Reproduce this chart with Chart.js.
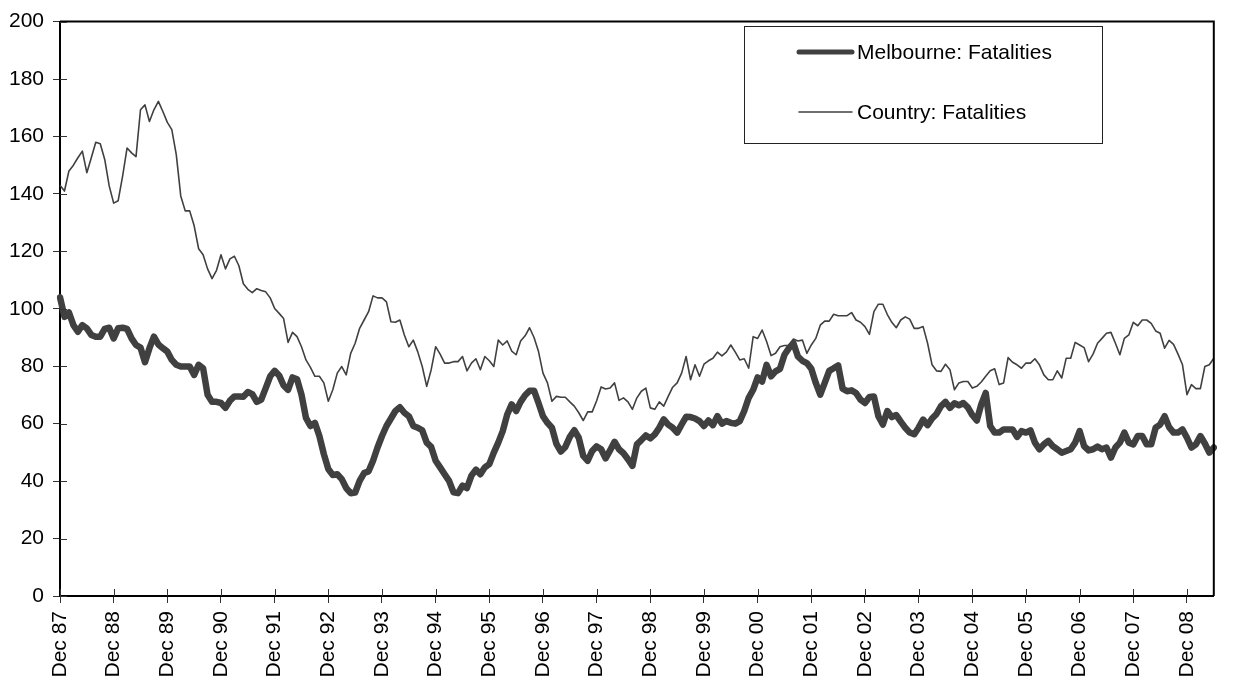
<!DOCTYPE html>
<html>
<head>
<meta charset="utf-8">
<title>Melbourne and Country fatalities</title>
<script src="https://cdn.jsdelivr.net/npm/chart.js@4.4.1/dist/chart.umd.min.js"></script>
<style>
  body { margin: 0; background: #fff; }
  #wrap { width: 1247px; height: 684px; }
</style>
</head>
<body>
<div id="wrap"><canvas id="fatalChart" width="1247" height="684"></canvas></div>
<script>
// monthly series, Dec 87 .. Jun 09 (one row per year, starting at December)
const startYear = 1987;
const monthNames = ["Dec", "Jan", "Feb", "Mar", "Apr", "May", "Jun", "Jul", "Aug", "Sep", "Oct", "Nov"];

const melbourne = [
  104, 97.2, 98.7, 94.3, 92, 94.3, 93.2, 90.9, 90.3, 90.3, 93, 93.4,
  89.7, 93.2, 93.4, 93, 89.7, 87.4, 86.5, 81.4, 86.3, 90.3, 87.6, 86.3,
  85.1, 82.2, 80.5, 79.9, 79.9, 79.9, 77, 80.5, 79.3, 70.1, 67.6, 67.6,
  67.2, 65.5, 68, 69.5, 69.5, 69.4, 71, 70.3, 67.6, 68.4, 72.4, 76.5,
  78.4, 76.8, 73.3, 71.8, 76.1, 75.5, 70.1, 62, 59.2, 60.3, 55.7, 49.4,
  44.2, 42.1, 42.4, 40.7, 37.6, 35.8, 36, 40.1, 42.8, 43.4, 47.1, 51.7,
  55.7, 59.2, 61.8, 64.4, 65.7, 63.8, 62.6, 59.2, 58.6, 57.7, 53.4, 51.9,
  47.1, 44.8, 42.4, 40.1, 36.1, 35.8, 38.4, 37.6, 41.9, 44, 42.4, 44.8,
  45.9, 49.9, 53.4, 57.4, 63.2, 66.7, 64.4, 67.6, 69.9, 71.5, 71.5, 67.2,
  62.6, 60.3, 58.6, 53, 50.3, 51.9, 55.4, 57.7, 55.1, 48.8, 47.1, 50.5,
  52.1, 51.1, 47.9, 50.7, 53.7, 51.1, 49.7, 47.6, 45.3, 52.8, 54.3, 55.9,
  54.9, 56.3, 58.6, 61.5, 59.7, 58.6, 56.9, 59.7, 62.4, 62.3, 61.8, 60.9,
  59.2, 61.1, 59.5, 62.6, 60, 60.9, 60.3, 60, 60.9, 64.4, 69, 71.8,
  76.1, 74.7, 80.5, 76.5, 78.2, 79.1, 84, 86.3, 88, 83.4, 81.9, 81.1,
  79.1, 74.2, 70.1, 74.2, 78.4, 79.3, 80.3, 72.2, 71.3, 71.6, 70.7, 68.4,
  67.2, 69.3, 69.5, 62.6, 59.7, 64.4, 62.3, 63, 60.7, 58.6, 56.9, 56.3,
  58.6, 61.4, 59.5, 61.8, 63.4, 66.1, 67.6, 65.5, 67.1, 66.4, 67.2, 65.7,
  63, 61.1, 66.7, 70.7, 59.2, 56.9, 56.9, 58, 58, 58, 55.4, 57.4,
  56.9, 57.7, 53.4, 51.1, 52.8, 54, 52.2, 51.1, 49.9, 50.5, 51.1, 53.4,
  57.4, 52.2, 50.7, 51.1, 52, 51.1, 51.7, 48.2, 51.7, 53.4, 56.9, 53.4,
  52.8, 55.7, 55.7, 52.8, 52.8, 58.6, 59.7, 62.6, 58.8, 56.9, 56.9, 58,
  55.1, 51.7, 52.8, 55.7, 53.1, 49.9, 51.7
];

const country = [
  143, 141, 148, 150, 152.6, 154.9, 147.4, 152.6, 158, 157.5, 152, 142.8,
  136.8, 137.6, 146.2, 156, 154.3, 153, 169.3, 171, 165.2, 169.3, 172.2, 168.7,
  164.9, 162.4, 153.7, 139.3, 134.1, 134.1, 128.9, 120.9, 118.8, 113.9, 110.5, 113.4,
  118.8, 113.9, 117.4, 118.3, 115, 108.7, 106.8, 105.6, 107, 106.4, 105.9, 103.8,
  100.1, 98.4, 96.6, 88.3, 91.8, 90.3, 86.8, 82.2, 79.6, 76.5, 76.5, 74.2,
  67.8, 71.8, 77.6, 79.9, 77, 84.5, 88, 93.2, 96.1, 99, 104.5, 103.8,
  103.8, 102.4, 95.5, 95.3, 96.1, 90.9, 86.8, 89.1, 85, 79.9, 73, 78.8,
  86.8, 84.2, 81.1, 81.1, 81.6, 81.6, 83.4, 78.4, 81.1, 82.6, 78.8, 83.4,
  81.9, 79.9, 89.1, 87.4, 88.8, 85.3, 84, 88.8, 90.6, 93.4, 90, 85.1,
  77.6, 74.2, 67.8, 69.5, 69.2, 69.2, 67.6, 66.1, 63.8, 61.1, 64.1, 64.1,
  68, 72.8, 72.1, 72.4, 74.2, 68.1, 69, 67.6, 65, 69, 71.3, 72.4,
  65.5, 65, 67.6, 66.1, 69.5, 72.7, 74.2, 77.6, 83.4, 75.3, 80.5, 76.5,
  80.7, 81.9, 82.8, 84.9, 83.6, 84.9, 87.4, 84.9, 82.2, 82.6, 79.3, 90.3,
  89.7, 92.6, 88.6, 83.7, 84.5, 86.8, 87.2, 87.2, 89.5, 88.8, 89.1, 84.5,
  87.4, 89.7, 94.3, 95.7, 95.7, 98.1, 97.6, 97.6, 97.6, 98.7, 96.1, 95.3,
  93.8, 91.1, 99, 101.6, 101.6, 98, 95.3, 93.4, 96.1, 97.2, 96.4, 93.2,
  93.2, 93.8, 88, 80.5, 78.4, 78.2, 80.7, 78.8, 71.8, 74.2, 74.7, 74.7,
  72.4, 73, 74.5, 76.5, 78.4, 79.1, 73.6, 74.2, 83, 81.4, 80.5, 79.3,
  81.1, 81.1, 82.6, 80.5, 77, 75.3, 75.3, 78.4, 75.9, 82.8, 82.8, 88.3,
  87.4, 86.5, 81.6, 84.2, 88, 89.7, 91.5, 91.8, 88, 84, 89.7, 90.9,
  95.3, 94.1, 96.1, 96.1, 94.9, 92.3, 91.5, 86.3, 89, 87.6, 84.2, 80.5,
  70.1, 73.6, 72.2, 72.2, 79.9, 80.5, 82.8
];

const yTicks = [0, 20, 40, 60, 80, 100, 120, 140, 160, 180, 200];

const labels = melbourne.map((v, i) => {
  const yr = startYear + Math.floor((i + 11) / 12);
  return monthNames[i % 12] + " " + String(yr % 100).padStart(2, "0");
});

const FONT = "'Liberation Sans', Arial, sans-serif";
const LINE = "#404040";

// top/right frame, inner halves of the tick marks, and the boxed legend
const framePlugin = {
  id: "frame",
  afterDraw(chart) {
    const { ctx, chartArea: a, scales } = chart;
    ctx.save();
    ctx.strokeStyle = "#000";
    ctx.lineWidth = 2;
    ctx.beginPath();
    ctx.moveTo(a.left, a.top);
    ctx.lineTo(a.right, a.top);
    ctx.lineTo(a.right, a.bottom);
    ctx.stroke();

    ctx.lineWidth = 1;
    ctx.strokeStyle = "#333";
    ctx.beginPath();
    for (let i = 0; i < labels.length; i += 12) {
      const x = Math.round(scales.x.getPixelForValue(i)) + 0.5;
      ctx.moveTo(x, a.bottom);
      ctx.lineTo(x, a.bottom - 7);
    }
    yTicks.forEach(t => {
      const y = Math.round(scales.y.getPixelForValue(t)) + 0.5;
      ctx.moveTo(a.left, y);
      ctx.lineTo(a.left + 7, y);
    });
    ctx.stroke();

    // legend
    const bx = 744, by = 26, bw = 358, bh = 117;
    ctx.fillStyle = "#fff";
    ctx.fillRect(bx, by, bw, bh);
    ctx.strokeStyle = "#222";
    ctx.lineWidth = 1;
    ctx.strokeRect(bx + 0.5, by + 0.5, bw, bh);

    const items = [
      { text: "Melbourne: Fatalities", width: 5, y: 52 },
      { text: "Country: Fatalities", width: 1.5, y: 112 }
    ];
    ctx.font = "21px " + FONT;
    ctx.textBaseline = "middle";
    items.forEach(it => {
      ctx.strokeStyle = LINE;
      ctx.lineWidth = it.width;
      ctx.lineCap = "round";
      ctx.beginPath();
      ctx.moveTo(799, it.y);
      ctx.lineTo(852, it.y);
      ctx.stroke();
      ctx.fillStyle = "#000";
      ctx.fillText(it.text, 857, it.y + 1);
    });
    ctx.restore();
  }
};

new Chart(document.getElementById("fatalChart"), {
  type: "line",
  data: {
    labels: labels,
    datasets: [
      {
        label: "Melbourne: Fatalities",
        data: melbourne,
        borderColor: LINE,
        borderWidth: 6.5,
        pointRadius: 0,
        tension: 0,
        borderJoinStyle: "round",
        borderCapStyle: "round"
      },
      {
        label: "Country: Fatalities",
        data: country,
        borderColor: LINE,
        borderWidth: 1.6,
        pointRadius: 0,
        tension: 0,
        borderJoinStyle: "round"
      }
    ]
  },
  options: {
    responsive: false,
    animation: false,
    layout: { padding: { top: 18, right: 2, left: 0, bottom: 0 } },
    plugins: {
      legend: { display: false },
      tooltip: { enabled: false }
    },
    scales: {
      x: {
        offset: false,
        afterFit: s => { s.height = 88; },
        border: { color: "#000", width: 2 },
        grid: {
          drawOnChartArea: false,
          tickLength: 7,
          color: c => (c.index % 12 === 0 ? "#333" : "rgba(0,0,0,0)")
        },
        ticks: {
          autoSkip: false,
          maxRotation: 90,
          minRotation: 90,
          padding: 8,
          color: "#000",
          font: { family: FONT, size: 21 },
          callback: (v, i) => (i % 12 === 0 ? labels[i] : "")
        }
      },
      y: {
        min: 0,
        max: 200,
        afterFit: s => { s.width = 60; },
        border: { color: "#000", width: 2 },
        grid: { drawOnChartArea: false, tickLength: 7, color: "#333" },
        ticks: {
          stepSize: 20,
          padding: 9,
          color: "#000",
          font: { family: FONT, size: 21 }
        }
      }
    }
  },
  plugins: [framePlugin]
});
</script>
</body>
</html>
